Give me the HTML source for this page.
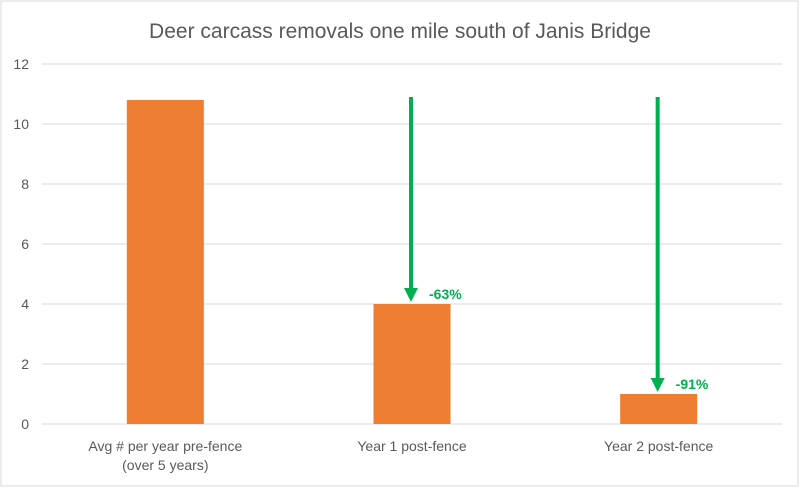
<!DOCTYPE html>
<html><head><meta charset="utf-8"><style>
body{margin:0;background:#fff;font-family:"Liberation Sans",Calibri,sans-serif}
svg{display:block}
</style></head><body>
<svg width="800" height="488" xmlns="http://www.w3.org/2000/svg">
<rect x="1" y="1" width="797" height="485" fill="#fff" stroke="#d9d9d9"/>
<text x="400" y="38" text-anchor="middle" font-size="21" fill="#595959">Deer carcass removals one mile south of Janis Bridge</text>
<g id="grid"></g><g id="bars"></g><g id="anno"></g>
</svg>
<script>
const categories=[["Avg # per year pre-fence","(over 5 years)"],["Year 1 post-fence"],["Year 2 post-fence"]];
const values=[10.8,4,1];
const ticks=[0,2,4,6,8,10,12];
const changeLabels=["","-63%","-91%"];
const NS="http://www.w3.org/2000/svg";
const left=42,right=782,y0=424,pxPer=30;
const bw=(right-left)/categories.length;
const y=v=>y0-v*pxPer;
const xc=i=>left+bw*(i+0.5);
function mk(t,a,p){const e=document.createElementNS(NS,t);for(const k in a)e.setAttribute(k,a[k]);p.appendChild(e);return e;}
const grid=document.getElementById('grid'),bars=document.getElementById('bars'),anno=document.getElementById('anno');
ticks.forEach(t=>{
 const l=mk('line',{x1:left,x2:right,y1:y(t),y2:y(t),stroke:'#d9d9d9','stroke-width':1},grid);
 
 
 const tx=mk('text',{x:29,y:y(t)+5,'text-anchor':'end','font-size':14,fill:'#595959'},grid);
 tx.textContent=t;
 
 
});
values.forEach((v,i)=>{
 const r=mk('rect',{x:xc(i)-38.5,y:y(v),width:77,height:v*pxPer,fill:'#ed7d31'},bars);
 
 
 categories[i].forEach((s,j)=>{
  const tx=mk('text',{x:xc(i),y:451+j*19,'text-anchor':'middle','font-size':14,fill:'#595959'},bars);
  tx.textContent=s;
  
  
 });
 if(changeLabels[i]){
  const ax=xc(i)-1,tip=y(v)-2;
  const ln=mk('line',{x1:ax,x2:ax,y1:97,y2:tip-12,stroke:'#00b050','stroke-width':4},anno);
  
  
  const hd=mk('polygon',{points:`${ax-7},${tip-14} ${ax+7},${tip-14} ${ax},${tip}`,fill:'#00b050'},anno);
  
  
  const lb=mk('text',{x:ax+18,y:y(v)-5,'font-size':14,'font-weight':'bold',fill:'#00b050'},anno);
  lb.textContent=changeLabels[i];
  
  
 }
});
</script>
</body></html>
